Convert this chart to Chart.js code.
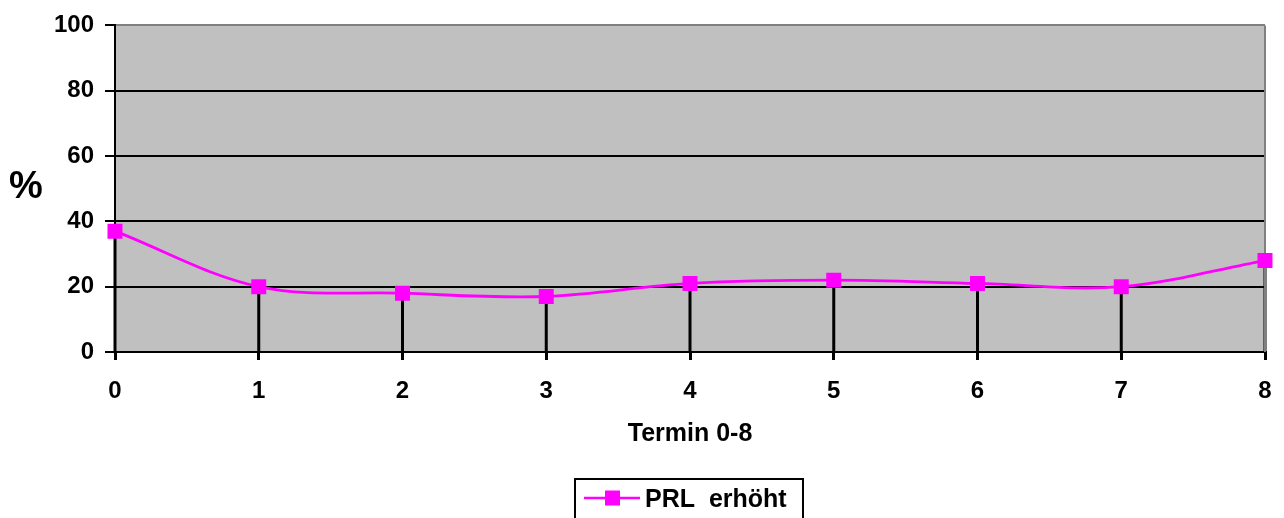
<!DOCTYPE html>
<html>
<head>
<meta charset="utf-8">
<script src="https://cdn.jsdelivr.net/npm/chart.js@4/dist/chart.umd.min.js"></script>
<style>
  html, body { margin: 0; padding: 0; background: #fff; }
  #wrap { width: 1284px; height: 518px; position: relative; }
</style>
</head>
<body>
<div id="wrap"><canvas id="chart"></canvas></div>
<script>
// Daten
const termine = ['0', '1', '2', '3', '4', '5', '6', '7', '8']
const prlErhoeht = [37, 20, 18, 17, 21, 22, 21, 20, 28]
const yTicks = [0, 20, 40, 60, 80, 100]

const serienName = 'PRL  erhöht'
const xTitel = 'Termin 0-8'
const yTitel = '%'

const schrift = 'Arial, "Liberation Sans", sans-serif'
const magenta = '#FF00FF'

/* Hintergrund der Zeichenfläche, Lotlinien, Titel und Legende */
const excelLook = {
  id: 'excelLook',
  beforeDraw: (chart) => {
    const { ctx, chartArea: a } = chart
    ctx.save()
    ctx.fillStyle = '#C0C0C0'
    ctx.fillRect(a.left, a.top, a.right - a.left, a.bottom - a.top)
    ctx.restore()
  },
  beforeDatasetsDraw: (chart) => {
    const { ctx, chartArea: a } = chart
    ctx.save()
    ctx.strokeStyle = '#000'
    ctx.lineWidth = 3
    chart.getDatasetMeta(0).data.forEach(p => {
      ctx.beginPath()
      ctx.moveTo(p.x, p.y)
      ctx.lineTo(p.x, a.bottom)
      ctx.stroke()
    })
    // rechter Rand
    ctx.strokeStyle = '#808080'
    ctx.lineWidth = 2
    ctx.beginPath()
    ctx.moveTo(a.right, a.top)
    ctx.lineTo(a.right, a.bottom)
    ctx.stroke()
    ctx.restore()
  },
  afterDraw: (chart) => {
    const { ctx, chartArea: a } = chart
    const mitte = (a.left + a.right) / 2
    ctx.save()
    ctx.fillStyle = '#000'
    ctx.textBaseline = 'middle'
    ctx.textAlign = 'center'
    ctx.font = 'bold 38px ' + schrift
    ctx.fillText(yTitel, 26, 188)
    ctx.font = 'bold 25px ' + schrift
    ctx.fillText(xTitel, mitte, 434)

    /* Legende */
    const bx = mitte - 115, by = 479, bw = 228, bh = 45
    ctx.strokeStyle = '#000'
    ctx.lineWidth = 2
    ctx.strokeRect(bx, by, bw, bh)
    ctx.strokeStyle = magenta
    ctx.lineWidth = 2.5
    ctx.beginPath()
    ctx.moveTo(bx + 9, 498)
    ctx.lineTo(bx + 65, 498)
    ctx.stroke()
    ctx.fillStyle = magenta
    ctx.fillRect(bx + 30, 498 - 7.5, 15, 15)
    ctx.fillStyle = '#000'
    ctx.textAlign = 'left'
    ctx.font = 'bold 25px ' + schrift
    ctx.fillText(serienName, bx + 70, 500)
    ctx.restore()
  }
}

new Chart(document.querySelector('#chart'), {
  type: 'line',
  data: {
    labels: termine,
    datasets: [{
      label: serienName,
      data: prlErhoeht,
      borderColor: magenta,
      backgroundColor: magenta,
      borderWidth: 2.8,
      tension: 0.35,
      pointStyle: 'rect',
      pointRadius: 10.6,
      pointHoverRadius: 10.6,
      pointBorderWidth: 0
    }]
  },
  options: {
    responsive: true,
    maintainAspectRatio: false,
    animation: false,
    layout: { padding: { left: 0, right: 19, top: 24, bottom: 0 } },
    plugins: { legend: { display: false }, tooltip: { enabled: false } },
    scales: {
      x: {
        offset: false,
        afterFit: (s) => {
          s.height = 166
          s.paddingLeft = 0
          s.paddingRight = 0
        },
        grid: { drawOnChartArea: false, color: '#000', lineWidth: 3, tickLength: 8 },
        border: { display: true, color: '#000', width: 2 },
        ticks: { color: '#000', padding: 17, maxRotation: 0, font: { family: schrift, size: 24, weight: 'bold' } }
      },
      y: {
        min: 0,
        max: 100,
        afterFit: (s) => { s.width = 115 },
        afterBuildTicks: (s) => { s.ticks = yTicks.map(v => ({ value: v })) },
        grid: {
          color: (c) => (c.tick && c.tick.value === 100) ? '#808080' : '#000',
          tickColor: '#000',
          lineWidth: 2,
          tickLength: 10
        },
        border: { display: true, color: '#000', width: 2 },
        ticks: { color: '#000', padding: 11, font: { family: schrift, size: 24, weight: 'bold' } }
      }
    }
  },
  plugins: [excelLook]
})
</script>
</body>
</html>
